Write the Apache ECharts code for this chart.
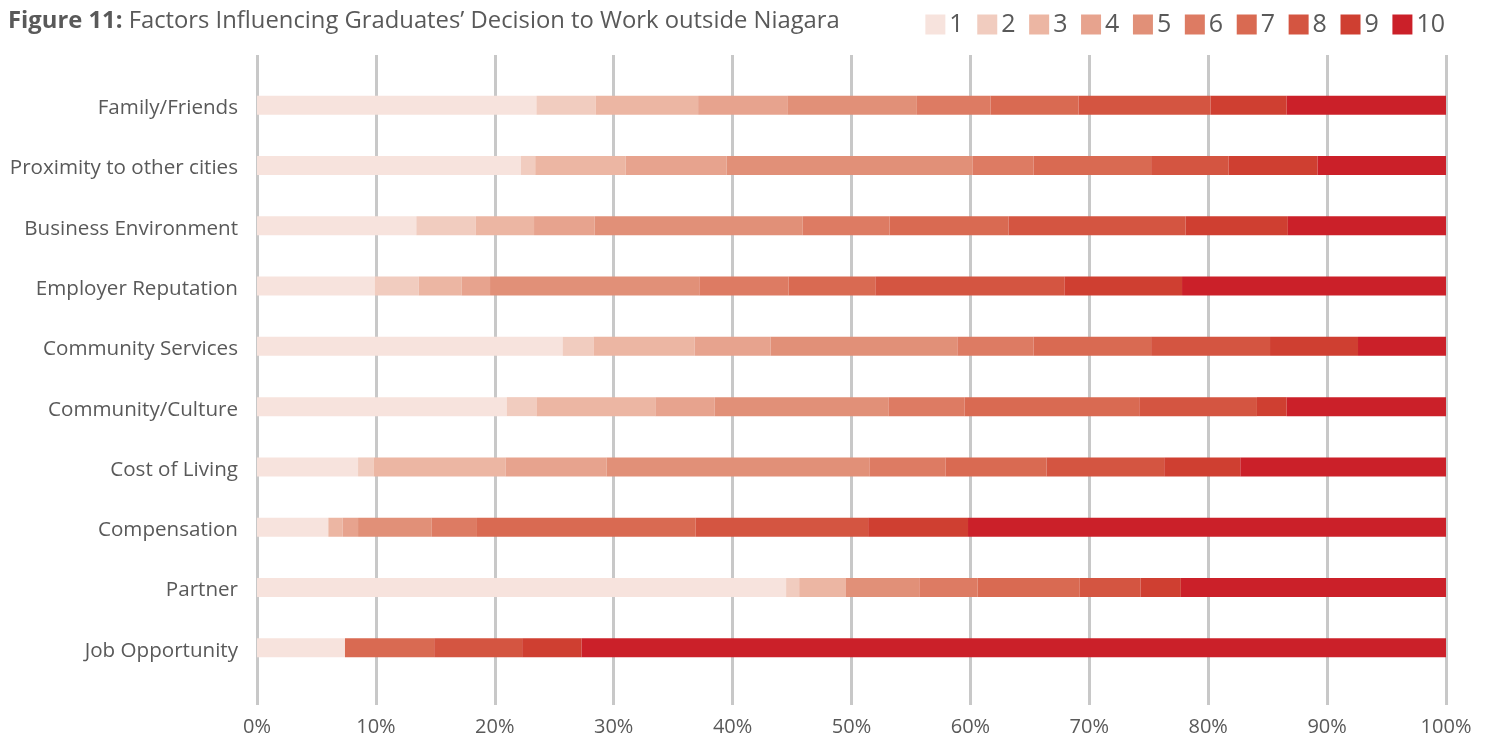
<!DOCTYPE html>
<html>
<head>
<meta charset="utf-8">
<script src="https://cdn.jsdelivr.net/npm/echarts@6/dist/echarts.min.js"></script>
<style>
  html, body { margin: 0; padding: 0; background: #fff; }
  #chart { width: 1492px; height: 738px; }
</style>
</head>
<body>
<div id="chart"></div>
<script>
// Factors (top to bottom)
const categories = [
  'Family/Friends', 'Proximity to other cities', 'Business Environment',
  'Employer Reputation', 'Community Services', 'Community/Culture',
  'Cost of Living', 'Compensation', 'Partner', 'Job Opportunity'
];

// Rating levels shown in the legend
const levels = ['1', '2', '3', '4', '5', '6', '7', '8', '9', '10'];

// Share of respondents (%) giving each rating, per factor (same order as categories)
const rating1  = [23.5, 22.2, 13.4,  9.9, 25.7, 21.0,  8.5,  6.0, 44.5,  7.4];
const rating2  = [ 5.0,  1.2,  5.0,  3.7,  2.6,  2.5,  1.3,  0.0,  1.1,  0.0];
const rating3  = [ 8.6,  7.6,  4.9,  3.6,  8.5, 10.0, 11.1,  1.2,  3.9,  0.0];
const rating4  = [ 7.5,  8.5,  5.1,  2.4,  6.4,  5.0,  8.5,  1.3,  0.0,  0.0];
const rating5  = [10.9, 20.7, 17.5, 17.6, 15.7, 14.6, 22.1,  6.2,  6.2,  0.0];
const rating6  = [ 6.2,  5.1,  7.3,  7.5,  6.4,  6.4,  6.4,  3.8,  4.9,  0.0];
const rating7  = [ 7.4,  9.9, 10.0,  7.3,  9.9, 14.7,  8.5, 18.4,  8.6,  7.5];
const rating8  = [11.1,  6.5, 14.9, 15.9, 10.0,  9.9,  9.9, 14.5,  5.1,  7.4];
const rating9  = [ 6.4,  7.5,  8.6,  9.9,  7.4,  2.5,  6.4,  8.4,  3.4,  5.0];
const rating10 = [13.4, 10.8, 13.3, 22.2,  7.4, 13.4, 17.3, 40.2, 22.3, 72.7];

const ratingSeries = [rating1, rating2, rating3, rating4, rating5,
                      rating6, rating7, rating8, rating9, rating10];

// Sequential palette from pale pink to deep red
const palette = ['#F7E3DD', '#F1CCBF', '#ECB6A3', '#E7A38E', '#E19078',
                 '#DD7B63', '#D96A52', '#D45541', '#CF3F31', '#CB2029'];

const FONT = '"Open Sans", "Noto Sans", sans-serif';
const TEXT = '#595959';

const chart = echarts.init(document.getElementById('chart'), null, { renderer: 'canvas' });

const option = {
  animation: false,
  color: palette,
  title: {
    text: '{b|Figure 11:} Factors Influencing Graduates\u2019 Decision to Work outside Niagara',
    left: 3,
    top: 4,
    textStyle: {
      fontFamily: FONT,
      fontSize: 23.8,
      fontWeight: 'normal',
      color: TEXT,
      rich: {
        b: { fontFamily: FONT, fontSize: 23.8, fontWeight: 'bold', color: TEXT }
      }
    }
  },
  legend: {
    data: levels,
    right: 42,
    top: 7,
    icon: 'rect',
    itemWidth: 20,
    itemHeight: 20,
    itemGap: 13.6,
    textStyle: { fontFamily: FONT, fontSize: 25, color: TEXT, padding: [0, 0, 0, -1] }
  },
  grid: [
    // bars
    { left: 257, right: 46, top: 75, bottom: 60, containLabel: false },
    // taller grid carrying the vertical gridlines and percentage labels
    { left: 257, right: 46, top: 55, bottom: 33, containLabel: false },
    // category labels sit slightly below the bar centres
    { left: 257, right: 46, top: 78, bottom: 57, containLabel: false }
  ],
  xAxis: [
    {
      gridIndex: 0, type: 'value', min: 0, max: 100, interval: 10,
      axisLine: { show: false }, axisTick: { show: false },
      axisLabel: { show: false }, splitLine: { show: false }
    },
    {
      gridIndex: 1, type: 'value', min: 0, max: 100, interval: 10,
      axisLine: { show: false }, axisTick: { show: false },
      axisLabel: {
        formatter: '{value}%', fontFamily: FONT, fontSize: 20, color: TEXT, margin: 12
      },
      splitLine: { show: true, lineStyle: { color: '#C8C8C8', width: 3 } }
    },
    {
      gridIndex: 2, type: 'value', min: 0, max: 100, show: false
    }
  ],
  yAxis: [
    {
      gridIndex: 0, type: 'category', data: categories, inverse: true,
      axisLine: { show: false }, axisTick: { show: false },
      axisLabel: { show: false }
    },
    {
      gridIndex: 1, type: 'value', show: false
    },
    {
      gridIndex: 2, type: 'category', data: categories, inverse: true,
      axisLine: { show: false }, axisTick: { show: false },
      axisLabel: { fontFamily: FONT, fontSize: 20.6, color: TEXT, margin: 19 }
    }
  ],
  series: ratingSeries.map((values, i) => ({
    name: levels[i],
    type: 'bar',
    stack: 'total',
    xAxisIndex: 0,
    yAxisIndex: 0,
    barWidth: 19,
    data: values,
    itemStyle: { color: palette[i] },
    emphasis: { disabled: true }
  }))
};

chart.setOption(option);
</script>
</body>
</html>
